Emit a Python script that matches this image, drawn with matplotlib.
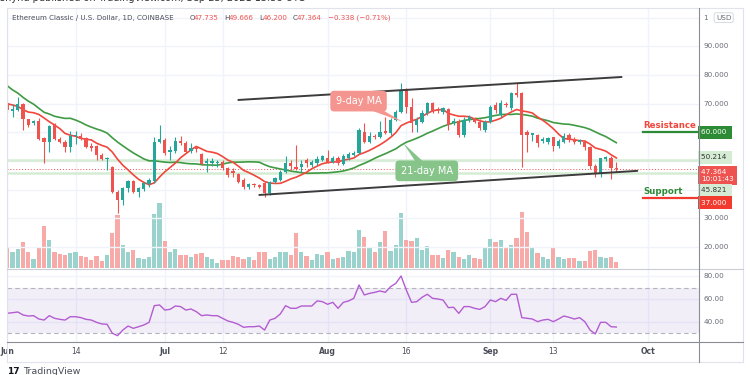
import numpy as np
import pandas as pd
import matplotlib
matplotlib.use('Agg')
import matplotlib.pyplot as plt
import matplotlib.dates as mdates
from matplotlib.lines import Line2D

# ETC/USD daily candles (Jun 1 .. Sep 25 2021)
dates = pd.date_range('2021-06-01', periods=117, freq='D')
opens = [70.1, 67.6, 67.9, 69.8, 64.5, 63.1, 64.0, 57.9, 56.5, 62.5,
         57.7, 56.8, 54.8, 58.8, 58.9, 58.2, 55.2, 55.2, 52.1, 50.7,
         48.1, 39.4, 36.4, 40.5, 43.1, 39.4, 40.2, 42.0, 43.0, 56.8,
         57.4, 53.2, 53.4, 57.0, 56.2, 53.6, 54.8, 52.4, 49.4, 49.5,
         49.2, 49.8, 47.7, 46.5, 45.5, 43.4, 40.8, 41.8, 41.6, 42.3,
         38.8, 42.8, 43.4, 46.3, 49.4, 48.1, 48.1, 50.4, 48.6, 49.2,
         50.4, 51.0, 49.8, 51.2, 49.0, 51.0, 52.1, 52.7, 60.2, 56.8,
         58.9, 58.5, 60.5, 59.7, 64.3, 67.2, 74.8, 69.0, 62.6, 63.7,
         66.6, 70.4, 68.0, 67.2, 68.0, 63.2, 64.1, 59.1, 64.3, 65.0,
         63.7, 60.8, 63.7, 69.6, 66.1, 69.8, 68.4, 73.6, 73.6, 60.3,
         59.1, 59.1, 57.0, 56.8, 58.3, 55.3, 56.8, 59.1, 57.6, 56.8,
         56.8, 54.8, 48.4, 45.7, 50.9, 51.2, 47.735]
highs = [71.3, 70.0, 72.5, 70.3, 64.8, 64.3, 65.0, 58.5, 62.6, 63.2,
         58.5, 57.4, 60.6, 60.6, 59.7, 58.5, 56.2, 55.6, 52.7, 51.5,
         48.3, 39.9, 41.1, 43.4, 43.4, 41.1, 42.8, 44.0, 58.5, 62.6,
         57.9, 55.2, 58.5, 58.7, 57.0, 56.2, 55.4, 52.7, 51.0, 51.0,
         50.4, 50.4, 48.1, 47.5, 45.7, 44.0, 42.5, 42.3, 42.0, 42.6,
         43.2, 44.4, 46.9, 51.6, 50.4, 55.6, 50.4, 51.0, 50.4, 51.6,
         52.1, 53.9, 51.8, 51.8, 52.4, 53.3, 53.6, 61.4, 63.2, 60.2,
         59.4, 63.8, 65.5, 65.0, 67.8, 77.1, 75.5, 71.9, 65.5, 67.8,
         70.7, 70.7, 69.0, 69.0, 68.4, 64.9, 64.5, 65.5, 66.0, 65.5,
         64.5, 64.3, 69.6, 70.7, 71.3, 70.7, 73.9, 77.1, 74.2, 60.8,
         59.7, 59.4, 58.3, 58.5, 58.5, 57.7, 59.7, 59.7, 58.5, 57.7,
         57.4, 55.2, 49.0, 51.2, 51.6, 51.6, 49.666]
lows = [66.6, 65.5, 67.5, 61.0, 62.0, 62.6, 57.4, 49.2, 53.3, 57.2,
        56.2, 53.0, 53.3, 56.0, 57.4, 54.4, 53.6, 50.4, 50.4, 46.9,
        38.8, 31.8, 34.8, 39.4, 39.0, 37.6, 39.6, 41.1, 42.3, 56.2,
        52.1, 50.4, 52.7, 55.6, 52.9, 52.9, 53.3, 48.6, 46.3, 48.3,
        47.8, 46.9, 44.6, 44.5, 42.3, 40.2, 40.2, 41.0, 40.5, 37.6,
        38.2, 42.3, 43.0, 45.7, 46.9, 46.9, 46.3, 48.0, 48.0, 48.6,
        50.0, 49.2, 49.4, 48.8, 48.6, 50.4, 51.6, 52.4, 56.2, 56.2,
        57.6, 57.9, 59.4, 59.1, 64.0, 66.6, 66.6, 60.3, 60.0, 63.2,
        66.0, 66.9, 66.6, 66.4, 60.8, 62.6, 58.5, 58.5, 63.5, 63.2,
        60.8, 60.3, 63.2, 66.9, 65.5, 69.0, 67.8, 72.5, 48.1, 53.3,
        57.0, 55.0, 56.2, 56.0, 53.6, 54.6, 56.2, 56.8, 56.0, 56.0,
        54.0, 47.4, 44.6, 44.4, 50.2, 43.6, 46.2]
closes = [67.8, 68.0, 69.8, 64.5, 62.6, 64.0, 57.7, 56.8, 62.2, 57.6,
          56.5, 54.8, 58.9, 59.2, 57.7, 55.0, 54.4, 52.1, 50.7, 50.9,
          39.4, 36.4, 40.5, 43.1, 39.4, 40.5, 42.3, 43.4, 56.8, 57.6,
          52.7, 53.9, 57.0, 56.2, 53.2, 54.6, 54.1, 49.0, 49.9, 50.0,
          49.8, 47.5, 45.2, 46.0, 42.8, 40.8, 42.0, 41.6, 41.1, 38.8,
          42.8, 44.0, 46.3, 49.2, 48.3, 47.4, 49.0, 49.2, 49.8, 50.9,
          51.6, 49.8, 51.2, 49.2, 51.9, 52.4, 52.9, 60.8, 56.8, 58.7,
          58.5, 60.2, 59.7, 64.3, 67.2, 74.8, 69.0, 63.2, 64.3, 66.9,
          70.4, 67.2, 67.6, 68.4, 62.6, 64.1, 59.1, 64.3, 65.2, 63.7,
          61.4, 63.7, 69.0, 67.8, 70.1, 69.5, 73.6, 73.0, 59.1, 59.1,
          59.7, 56.2, 57.6, 57.9, 55.3, 57.0, 58.7, 57.4, 56.8, 57.2,
          54.8, 48.4, 45.5, 51.0, 51.4, 47.5, 47.364]
# volume, relative heights
volume = [21.3, 15.7, 19.0, 26.3, 15.7, 8.7, 20.3, 42.0, 28.0, 15.7,
          13.7, 13.0, 14.7, 16.0, 12.0, 10.7, 8.0, 12.3, 6.7, 13.0,
          34.7, 53.0, 22.7, 15.7, 18.0, 10.3, 9.0, 10.7, 54.0, 65.3,
          27.0, 15.7, 18.7, 13.0, 13.0, 10.7, 13.7, 15.3, 11.3, 9.0,
          4.7, 8.0, 8.0, 12.0, 10.7, 9.0, 11.3, 8.0, 15.7, 15.7,
          8.7, 11.3, 15.7, 16.3, 13.0, 34.7, 15.7, 12.0, 8.0, 13.7,
          13.0, 16.3, 9.0, 9.7, 11.3, 17.0, 15.7, 38.0, 30.7, 19.7,
          16.3, 26.3, 37.0, 17.3, 23.0, 55.3, 28.0, 27.3, 29.7, 18.0,
          22.0, 13.0, 13.0, 9.7, 18.0, 15.7, 11.3, 8.7, 13.0, 9.7,
          8.7, 20.3, 28.7, 26.3, 28.0, 19.7, 23.0, 30.3, 56.3, 36.3,
          21.3, 15.3, 11.3, 9.0, 19.7, 10.7, 9.0, 10.3, 9.7, 7.3,
          7.3, 17.3, 18.0, 11.3, 9.7, 11.3, 6.3]
# RSI(14)
rsi = [47.6, 48.1, 48.7, 46.1, 45.2, 45.5, 42.6, 41.7, 45.5, 43.2,
       42.3, 41.7, 44.6, 44.6, 43.8, 42.3, 41.7, 39.7, 38.3, 38.0,
       30.2, 28.1, 33.0, 36.5, 34.5, 35.9, 37.4, 39.7, 54.2, 54.8,
       50.4, 51.0, 53.9, 53.4, 50.4, 51.3, 49.0, 45.5, 46.1, 45.5,
       45.5, 43.2, 40.9, 39.7, 38.0, 35.4, 35.9, 35.9, 36.5, 33.0,
       41.7, 43.2, 47.0, 54.2, 51.9, 51.9, 53.9, 53.9, 53.9, 58.3,
       57.7, 55.4, 57.1, 51.9, 57.1, 58.3, 60.6, 72.2, 63.5, 64.9,
       65.8, 67.0, 65.8, 70.7, 73.6, 80.0, 67.8, 57.1, 57.7, 61.5,
       64.1, 60.6, 60.0, 59.1, 52.5, 52.8, 47.5, 53.4, 53.4, 51.9,
       51.0, 53.4, 59.1, 57.7, 60.6, 58.8, 64.1, 64.1, 43.8, 43.2,
       42.6, 40.3, 41.7, 42.3, 40.3, 42.6, 45.2, 44.1, 42.6, 43.8,
       40.3, 33.0, 29.6, 39.7, 39.7, 35.9, 35.6]
# estimated closes May 12-31 (needed so the moving averages start where the chart shows)
prior_closes = [98, 93, 96, 90, 86, 88, 86, 75, 74, 65, 62, 58,
                72, 74, 75, 70, 66, 63, 68, 74]

# drawn trendlines / levels
channel_dates = ['2021-07-15', '2021-09-26']
channel_upper = [71.3, 79.3]
channel_lower_dates = ['2021-07-19', '2021-09-29']
channel_lower = [38.2, 46.6]
resistance = 60.0
support = 37.0
level_start = '2021-09-30'
hlines_green = [50.214, 45.821]
last_price = 47.364

tick_dates = ['2021-06-01', '2021-06-14', '2021-07-01', '2021-07-12', '2021-08-01',
              '2021-08-16', '2021-09-01', '2021-09-13', '2021-10-01']
tick_labels = ['Jun', '14', 'Jul', '12', 'Aug', '16', 'Sep', '13', 'Oct']

UP, DN = '#26a69a', '#ef5350'
GRID = '#f0f3fa'
W, H = 750, 375


def fx(x):
    return x / W


def fy(y):
    return 1 - y / H


fig = plt.figure(figsize=(7.5, 3.75), dpi=100)
fig.patch.set_facecolor('white')

pos_p = [fx(7), fy(268), 692 / W, 260 / H]
ax_v = fig.add_axes(pos_p)
ax_p = fig.add_axes(pos_p)
ax_r = fig.add_axes([fx(7), fy(342), 692 / W, 74 / H])
ax_p.patch.set_alpha(0)

t = mdates.date2num(dates)
o = np.array(opens)
h = np.array(highs)
l = np.array(lows)
c = np.array(closes)
up = c >= o
cols = np.where(up, UP, DN)
x0 = t[0]
for ax in (ax_v, ax_p, ax_r):
    ax.set_xlim(x0 - 0.06, x0 + 131.75)
    for s in ax.spines.values():
        s.set_visible(False)
    ax.set_xticks([])
    ax.set_yticks([])

tt = mdates.date2num(pd.to_datetime(tick_dates))

# price pane range
ax_p.set_ylim(12.75, 103.34)

# grid
for ax in (ax_v, ax_r):
    for v in tt:
        ax.axvline(v, color=GRID, lw=1, zorder=0)
for g in range(20, 101, 10):
    ax_p.axhline(g, color=GRID, lw=1, zorder=0)

# volume
ax_v.set_ylim(0, 260)
vcols = np.where(up, '#9ad3cd', '#f7aaa8')
ax_v.bar(t, volume, width=0.8, color=vcols, zorder=1)

for lv in hlines_green:
    ax_p.axhline(lv, color='#d6ecd5', lw=1.8, zorder=1)
ax_p.axhline(last_price, color=DN, lw=0.7, ls=(0, (1, 2)), zorder=1)

allc = pd.Series(prior_closes + closes)
ma9 = allc.rolling(9).mean().values[len(prior_closes):]
ma21 = allc.rolling(21).mean().values[len(prior_closes):]
ax_p.plot(t, ma21, color='#3f9b43', lw=1.2, zorder=3)
ax_p.plot(t, ma9, color='#f0473c', lw=1.2, zorder=3)

ax_p.vlines(t, l, h, colors=cols, lw=0.8, zorder=4)
body_lo = np.minimum(o, c)
body_h = np.maximum(np.abs(c - o), 0.25)
ax_p.bar(t, body_h, bottom=body_lo, width=0.62, color=cols, zorder=5)

cd = mdates.date2num(pd.to_datetime(channel_dates))
cl = mdates.date2num(pd.to_datetime(channel_lower_dates))
ax_p.plot(cd, channel_upper, color='#3c3c3c', lw=1.4, zorder=6, solid_capstyle='round')
ax_p.plot(cl, channel_lower, color='#3c3c3c', lw=1.4, zorder=6, solid_capstyle='round')

ls = mdates.date2num(pd.Timestamp(level_start))
ax_p.plot([ls, x0 + 131.75], [resistance, resistance], color='#2e8b35', lw=1.6, zorder=6)
ax_p.plot([ls, x0 + 131.75], [support, support], color='#f23a2e', lw=1.6, zorder=6)
ax_p.text(ls + 0.1, resistance + 1.0, 'Resistance', color='#f0473c', fontsize=6.2,
          fontweight='bold', ha='left', va='bottom', zorder=7)
ax_p.text(ls + 0.1, support + 1.0, 'Support', color='#2e8b35', fontsize=6.2,
          fontweight='bold', ha='left', va='bottom', zorder=7)

# MA callouts
ax_p.annotate('9-day MA', xy=(x0 + 75.4, 63.6), xytext=(x0 + 66.9, 70.9),
              ha='center', va='center', color='white', fontsize=7, zorder=8,
              bbox=dict(boxstyle='round,pad=0.55,rounding_size=0.4', fc='#f4958f', ec='none'),
              arrowprops=dict(arrowstyle='wedge,tail_width=0.9,shrink_factor=0.5',
                              fc='#f4958f', ec='none', patchA=None, shrinkA=0, shrinkB=0))
ax_p.annotate('21-day MA', xy=(x0 + 75.4, 56.3), xytext=(x0 + 79.9, 46.6),
              ha='center', va='center', color='white', fontsize=7, zorder=8,
              bbox=dict(boxstyle='round,pad=0.55,rounding_size=0.4', fc='#86c48a', ec='none'),
              arrowprops=dict(arrowstyle='wedge,tail_width=0.9,shrink_factor=0.5',
                              fc='#86c48a', ec='none', patchA=None, shrinkA=0, shrinkB=0))

# price scale labels
ytr = ax_p.get_yaxis_transform()
lx = 1.006
for v in [90, 80, 70, 30, 20]:
    ax_p.text(lx, v, '%.3f' % v, transform=ytr, fontsize=5.2, color='#6a6d78',
              ha='left', va='center', clip_on=False)
ax_p.text(lx, 100, '1', transform=ytr, fontsize=5.2, color='#6a6d78',
          ha='left', va='center', clip_on=False)
ax_p.text(1.0245, 100, 'USD', transform=ytr, fontsize=5.2, color='#6a6d78', ha='left',
          va='center', clip_on=False,
          bbox=dict(boxstyle='round,pad=0.25', fc='white', ec='#d1d4dc', lw=0.6))


def tag(val, txt, fc, tc, ypos=None):
    ax_p.text(1.003, val if ypos is None else ypos, txt, transform=ytr, fontsize=5.2,
              color=tc, ha='left', va='center', clip_on=False, zorder=9,
              bbox=dict(boxstyle='square,pad=0.45', fc=fc, ec='none'))


tag(resistance, '60.000 ', '#2e8b35', 'white')
tag(hlines_green[0], '50.214 ', '#d6ebd3', '#333333', ypos=51.3)
tag(last_price, '47.364  \n10:01:43', DN, 'white', ypos=44.9)
tag(hlines_green[1], '45.821 ', '#d6ebd3', '#333333', ypos=39.8)
tag(support, '37.000 ', '#f23a2e', 'white', ypos=35.5)

# RSI pane
ax_r.set_ylim(22.6, 86.96)
for g in (40, 60, 80):
    ax_r.axhline(g, color=GRID, lw=1, zorder=0)
ax_r.axhspan(30, 70, color='#9575cd', alpha=0.12, lw=0, zorder=1)
ax_r.axhline(70, color='#b2b5be', lw=0.8, ls=(0, (4, 3)), zorder=2)
ax_r.axhline(30, color='#b2b5be', lw=0.8, ls=(0, (4, 3)), zorder=2)
ax_r.plot(t, rsi, color='#b35cd1', lw=1.0, zorder=3)
rtr = ax_r.get_yaxis_transform()
for v in (80, 60, 40):
    ax_r.text(lx, v, '%.2f' % v, transform=rtr, fontsize=5.2, color='#6a6d78',
              ha='left', va='center', clip_on=False)

# time axis labels
xtr = ax_r.get_xaxis_transform()
for v, lab in zip(tt, tick_labels):
    bold = not lab.isdigit()
    ax_r.text(v, -0.135, lab, transform=xtr, fontsize=5.5, color='#4a4d58',
              fontweight='bold' if bold else 'normal', ha='center', va='center',
              clip_on=False)

# frame lines
def fline(x1, y1, x2, y2, col, lw=0.8):
    fig.add_artist(Line2D([fx(x1), fx(x2)], [fy(y1), fy(y2)], color=col, lw=lw))


fline(7, 8, 743, 8, '#e0e3eb')
fline(7, 362, 743, 362, '#e0e3eb')
fline(7, 8, 7, 362, '#e0e3eb')
fline(743, 8, 743, 362, '#e0e3eb')
fline(7, 268.5, 743, 268.5, '#c9ccd4')
fline(7, 342, 743, 342, '#8a8d96')
fline(699, 8, 699, 362, '#8a8d96')

# header (top line is cut by the image edge, as in the screenshot)
fig.text(fx(0), fy(-2), 'shyhd published on TradingView.com, Sep 23, 2021 13:58 UTC',
         fontsize=7, color='#333333', ha='left', va='center')
hy = fy(17.7)
fig.text(fx(12), hy, 'Ethereum Classic / U.S. Dollar, 1D, COINBASE', fontsize=5.1,
         color='#4a4d58', ha='left', va='center')
parts = [(189.5, 'O', '#4a4d58'), (193.5, '47.735', DN), (224.5, 'H', '#4a4d58'),
         (228.5, '49.666', DN), (259.5, 'L', '#4a4d58'), (262.5, '46.200', DN),
         (292.5, 'C', '#4a4d58'), (296.5, '47.364', DN), (327.5, '\u22120.338 (\u22120.71%)', DN)]
for px, s, col in parts:
    fig.text(fx(px), hy, s, fontsize=5.1, color=col, ha='left', va='center')

# footer logo
fig.text(fx(7), fy(371), '17', fontsize=6.5, fontweight='bold', color='#131722',
         ha='left', va='center')
fig.text(fx(23), fy(371), 'TradingView', fontsize=6.8, color='#4a4d58', ha='left', va='center')

fig.savefig('out.png', dpi=100)
